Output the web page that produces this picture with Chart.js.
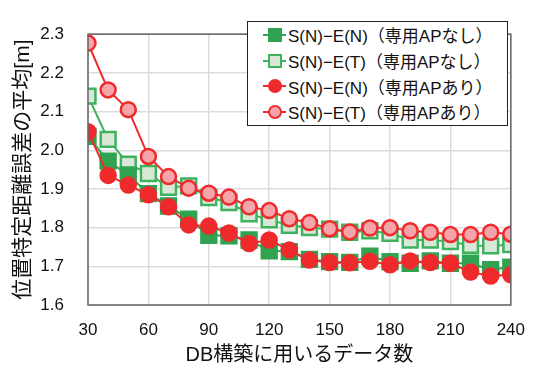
<!DOCTYPE html>
<html>
<head>
<meta charset="utf-8">
<script src="https://cdn.jsdelivr.net/npm/chart.js@4/dist/chart.umd.min.js"></script>
<style>
  html, body { margin: 0; padding: 0; background: #fff; }
  #wrap { position: relative; width: 540px; height: 370px; }
  canvas { display: block; }
  #legend {
    position: absolute; left: 247px; top: 21px; width: 261px; height: 105px;
    box-sizing: border-box; border: 1px solid #222; background: #fff;
    font-family: "Liberation Sans", "Noto Sans CJK JP", sans-serif; font-size: 17px; color: #111;
    padding-top: 0px;
  }
  .row { display: flex; align-items: center; height: 25.7px; padding-left: 15px; }
  .mk { position: relative; width: 23px; height: 20px; margin-right: 2px; flex: none; }
  .mk .ln { position: absolute; left: 0; right: 0; top: 9px; height: 2px; }
  .mk .pt { position: absolute; box-sizing: border-box; }
  .row span { white-space: nowrap; }
</style>
</head>
<body>
<div id="wrap">
  <canvas id="c" width="540" height="370"></canvas>
  <div id="legend"></div>
</div>
<script>
// ---- data ----
const xValues = [30, 40, 50, 60, 70, 80, 90, 100, 110, 120, 130, 140, 150, 160, 170, 180, 190, 200, 210, 220, 230, 240];
const seriesNames = [
  "S(N)−E(N)（専用APなし）",
  "S(N)−E(T)（専用APなし）",
  "S(N)−E(N)（専用APあり）",
  "S(N)−E(T)（専用APあり）"
];
const snEnNashi = [2.036, 1.972, 1.936, 1.888, 1.856, 1.822, 1.780, 1.779, 1.768, 1.740, 1.738, 1.718, 1.712, 1.710, 1.726, 1.712, 1.708, 1.714, 1.708, 1.708, 1.691, 1.698];
const snEtNashi = [2.140, 2.028, 1.964, 1.940, 1.904, 1.908, 1.878, 1.865, 1.836, 1.820, 1.806, 1.800, 1.796, 1.788, 1.792, 1.785, 1.768, 1.768, 1.764, 1.754, 1.753, 1.756];
const snEnAri   = [2.048, 1.935, 1.910, 1.885, 1.854, 1.807, 1.804, 1.786, 1.759, 1.768, 1.742, 1.716, 1.710, 1.709, 1.713, 1.704, 1.714, 1.710, 1.708, 1.685, 1.675, 1.678];
const snEtAri   = [2.277, 2.156, 2.105, 1.984, 1.932, 1.902, 1.889, 1.879, 1.854, 1.844, 1.823, 1.813, 1.797, 1.789, 1.799, 1.800, 1.792, 1.788, 1.782, 1.782, 1.788, 1.783];
const yTicks = [1.6, 1.7, 1.8, 1.9, 2.0, 2.1, 2.2, 2.3];
const xTicks = [30, 60, 90, 120, 150, 180, 210, 240];
const xTitle = "DB構築に用いるデータ数";
const yTitle = "位置特定距離誤差の平均[m]";

// ---- styles ----
const GREEN = "#30a350";
const GREEN_LIGHT_FILL = "#d9e7d6";
const GREEN_LIGHT_BORDER = "#3cb35c";
const RED = "#ee2a2c";
const RED_LIGHT_FILL = "#f5a5aa";
const FONT = '"Liberation Sans", "Noto Sans CJK JP", sans-serif';

const styles = [
  { line: GREEN, fill: GREEN, border: GREEN, shape: "rect", r: 10.5, order: 2 },
  { line: GREEN_LIGHT_BORDER, fill: GREEN_LIGHT_FILL, border: GREEN_LIGHT_BORDER, shape: "rect", r: 10.5, order: 3 },
  { line: RED, fill: RED, border: RED, shape: "circle", r: 7.5, order: 0 },
  { line: RED, fill: RED_LIGHT_FILL, border: RED, shape: "circle", r: 7.5, order: 1 }
];
const values = [snEnNashi, snEtNashi, snEnAri, snEtAri];

const datasets = values.map((vals, i) => ({
  label: seriesNames[i],
  data: xValues.map((x, j) => ({ x: x, y: vals[j] })),
  borderColor: styles[i].line,
  borderWidth: 2,
  backgroundColor: styles[i].fill,
  pointStyle: styles[i].shape,
  pointRadius: styles[i].r,
  pointHoverRadius: styles[i].r,
  pointBackgroundColor: styles[i].fill,
  pointBorderColor: styles[i].border,
  pointBorderWidth: 2.5,
  tension: 0,
  order: styles[i].order
}));

const frame = {
  id: "frame",
  afterDraw(chart) {
    const a = chart.chartArea, ctx = chart.ctx;
    ctx.save();
    ctx.strokeStyle = "#666";
    ctx.lineWidth = 1.5;
    ctx.strokeRect(a.left, a.top, a.right - a.left, a.bottom - a.top);
    ctx.restore();
  }
};

new Chart(document.getElementById("c"), {
  type: "line",
  data: { datasets },
  plugins: [frame],
  options: {
    responsive: false,
    animation: false,
    events: [],
    layout: { padding: { top: 13, right: 27, left: 0, bottom: 0 } },
    plugins: { legend: { display: false }, tooltip: { enabled: false } },
    scales: {
      x: {
        type: "linear",
        min: 30, max: 240,
        afterBuildTicks(s) { s.ticks = xTicks.map(v => ({ value: v })); },
        afterFit(s) { s.height = 65; },
        grid: { color: "#dcdcdc", lineWidth: 1.5, drawTicks: false },
        border: { display: false },
        ticks: { padding: 15, color: "#111", font: { family: FONT, size: 17 }, maxRotation: 0, autoSkip: false },
        title: { display: true, text: xTitle, color: "#111", font: { family: FONT, size: 20 }, padding: { top: 0, bottom: 3 } }
      },
      y: {
        min: 1.6, max: 2.3,
        afterBuildTicks(s) { s.ticks = yTicks.map(v => ({ value: v })); },
        afterFit(s) { s.width = 88; },
        grid: { color: "#dcdcdc", lineWidth: 1.5, drawTicks: false },
        border: { display: false },
        ticks: { padding: 24, color: "#111", font: { family: FONT, size: 17 }, callback: v => v.toFixed(1) },
        title: { display: true, text: yTitle, color: "#111", font: { family: FONT, size: 21 }, padding: { top: 11, bottom: 0 } }
      }
    }
  }
});

// HTML legend
const leg = document.getElementById("legend");
seriesNames.forEach((name, i) => {
  const st = styles[i];
  const row = document.createElement("div");
  row.className = "row";
  const mk = document.createElement("div");
  mk.className = "mk";
  const ln = document.createElement("div");
  ln.className = "ln";
  ln.style.background = st.line;
  const pt = document.createElement("div");
  pt.className = "pt";
  const size = st.shape === "rect" ? 14 : 14;
  pt.style.width = size + "px";
  pt.style.height = size + "px";
  pt.style.left = (23 - size) / 2 + "px";
  pt.style.top = (20 - size) / 2 + "px";
  pt.style.background = st.fill;
  pt.style.border = "2px solid " + st.border;
  if (st.shape === "circle") pt.style.borderRadius = "50%";
  mk.appendChild(ln); mk.appendChild(pt);
  const sp = document.createElement("span");
  sp.textContent = name;
  row.appendChild(mk); row.appendChild(sp);
  leg.appendChild(row);
});
</script>
</body>
</html>
